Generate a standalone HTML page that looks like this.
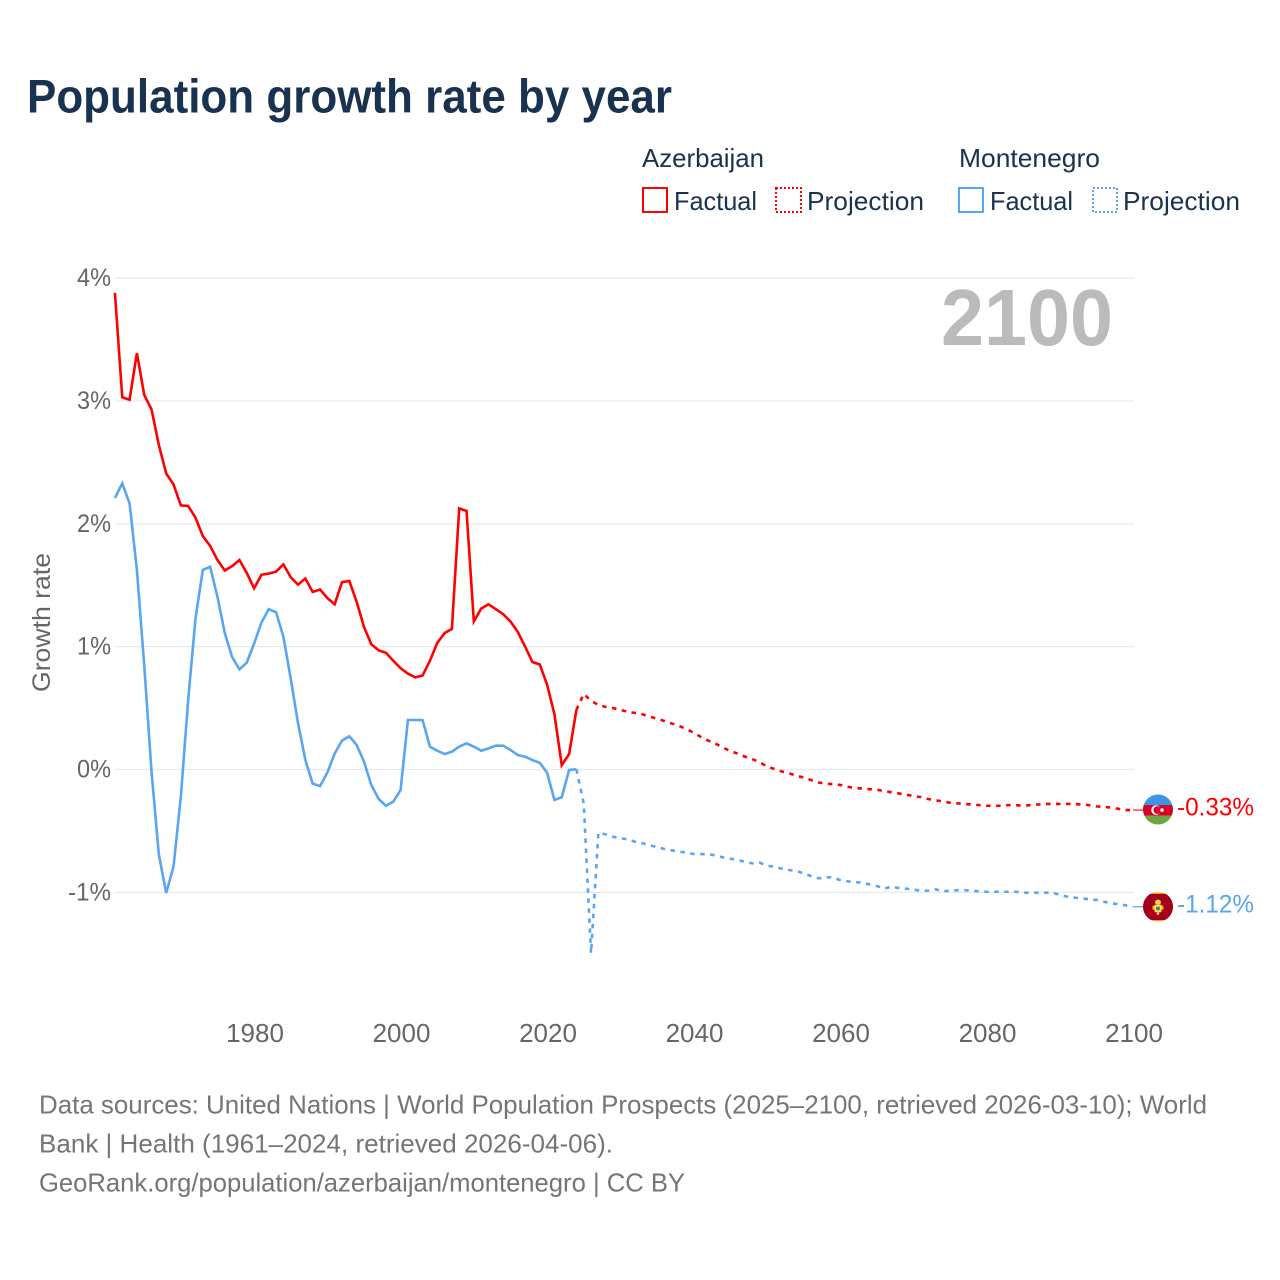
<!DOCTYPE html>
<html lang="en">
<head>
<meta charset="utf-8">
<title>Population growth rate by year</title>
<style>
html,body{margin:0;padding:0;background:#fff;}
svg{display:block;font-family:"Liberation Sans",sans-serif;}
</style>
</head>
<body>
<svg id="chart" xmlns="http://www.w3.org/2000/svg" width="1280" height="1280" viewBox="0 0 1280 1280">
  <rect x="0" y="0" width="1280" height="1280" fill="#ffffff"/>
  <text x="27" y="112.5" font-size="47" font-weight="700" fill="#18324f" textLength="645" lengthAdjust="spacingAndGlyphs">Population growth rate by year</text>

  <g font-size="26" fill="#18324f">
    <text x="642" y="167" textLength="122" lengthAdjust="spacingAndGlyphs">Azerbaijan</text>
    <text x="959" y="167" textLength="141" lengthAdjust="spacingAndGlyphs">Montenegro</text>
    <rect x="643" y="188" width="24" height="24" fill="none" stroke="#ff0000" stroke-width="2"/>
    <text x="674" y="210" textLength="83" lengthAdjust="spacingAndGlyphs">Factual</text>
    <rect x="776" y="188" width="25" height="24" fill="none" stroke="#ff0000" stroke-width="2" stroke-dasharray="2 2"/>
    <text x="807" y="210" textLength="117" lengthAdjust="spacingAndGlyphs">Projection</text>
    <rect x="959" y="188" width="24" height="24" fill="none" stroke="#5aa5f0" stroke-width="2"/>
    <text x="990" y="210" textLength="83" lengthAdjust="spacingAndGlyphs">Factual</text>
    <rect x="1093" y="188" width="24" height="24" fill="none" stroke="#5aa5f0" stroke-width="2" stroke-dasharray="2 2"/>
    <text x="1123" y="210" textLength="117" lengthAdjust="spacingAndGlyphs">Projection</text>
  </g>

  <g id="grid"></g>
  <g id="yTicks"></g>
  <g id="xTicks"></g>
  <text transform="translate(50 692) rotate(-90)" font-size="25" fill="#666666" textLength="139" lengthAdjust="spacingAndGlyphs">Growth rate</text>
  <text id="yearLabel" x="1113" y="345" text-anchor="end" font-size="80" font-weight="700" fill="#bbbbbb" textLength="172" lengthAdjust="spacingAndGlyphs">2100</text>

  <g id="series"></g>

  <g id="flagAz">
    <clipPath id="clipAz"><circle cx="0" cy="0" r="15"/></clipPath>
    <g clip-path="url(#clipAz)">
      <rect x="-15" y="-15" width="30" height="10.5" fill="#3d95e8"/>
      <rect x="-15" y="-4.5" width="30" height="10.5" fill="#d80027"/>
      <rect x="-15" y="6" width="30" height="9" fill="#6da544"/>
    </g>
    <circle cx="-2" cy="0.5" r="4.8" fill="#ffffff"/>
    <circle cx="-0.8" cy="0.5" r="3.8" fill="#d80027"/>
    <circle cx="4" cy="0.5" r="1.8" fill="#ffffff"/>
  </g>
  <g id="flagMe">
    <clipPath id="clipMe"><circle cx="0" cy="0" r="15"/></clipPath>
    <g clip-path="url(#clipMe)">
      <rect x="-15" y="-15" width="30" height="30" fill="#ffda44"/>
      <rect x="-15" y="-13" width="30" height="26.5" fill="#a2001d"/>
    </g>
    <ellipse cx="0" cy="-4.5" rx="3" ry="2.6" fill="#ffda44"/>
    <rect x="-5.5" y="-1" width="11" height="4" fill="#e8b93a"/>
    <rect x="-3.5" y="-2" width="7" height="7.5" fill="#ffda44"/>
    <rect x="-1.8" y="0" width="3.6" height="3.4" fill="#3d7a9e"/>
    <circle cx="0" cy="6.8" r="1.4" fill="#ffda44"/>
  </g>
  <g id="endLabels"></g>

  <g font-size="26" fill="#757575">
    <text x="39" y="1113.5" textLength="1168" lengthAdjust="spacingAndGlyphs">Data sources: United Nations | World Population Prospects (2025–2100, retrieved 2026-03-10); World</text>
    <text x="39" y="1152.5" textLength="574" lengthAdjust="spacingAndGlyphs">Bank | Health (1961–2024, retrieved 2026-04-06).</text>
    <text x="39" y="1191.5" textLength="646" lengthAdjust="spacingAndGlyphs">GeoRank.org/population/azerbaijan/montenegro | CC BY</text>
  </g>
</svg>

<script>
const xTickYears = [1980, 2000, 2020, 2040, 2060, 2080, 2100];
const yTickValues = [4, 3, 2, 1, 0, -1];
const factualStartYear = 1961;
const projectionStartYear = 2024;

const azerbaijanFactual = [
  3.88,3.03,3.01,3.39,3.05,2.93,2.64,2.41,2.32,2.15,
  2.145,2.05,1.90,1.82,1.705,1.62,1.655,1.705,1.60,1.475,
  1.585,1.595,1.61,1.67,1.565,1.505,1.555,1.445,1.465,1.395,
  1.345,1.525,1.535,1.365,1.16,1.02,0.97,0.95,0.885,0.825,
  0.78,0.75,0.765,0.885,1.03,1.11,1.145,2.125,2.105,1.205,
  1.31,1.345,1.305,1.265,1.205,1.12,1.0,0.875,0.855,0.69,
  0.45,0.035,0.125,0.485
];
const azerbaijanProjection = [
  0.485,0.615,0.56,0.525,0.51,0.5,0.485,0.47,0.46,0.45,
  0.43,0.415,0.395,0.375,0.355,0.33,0.30,0.265,0.235,0.21,
  0.18,0.15,0.13,0.105,0.085,0.06,0.025,0.005,-0.015,-0.03,
  -0.05,-0.065,-0.085,-0.105,-0.115,-0.12,-0.125,-0.14,-0.15,-0.155,
  -0.16,-0.165,-0.175,-0.185,-0.195,-0.205,-0.215,-0.225,-0.24,-0.25,
  -0.26,-0.27,-0.275,-0.28,-0.285,-0.29,-0.295,-0.295,-0.295,-0.29,
  -0.29,-0.295,-0.29,-0.285,-0.28,-0.28,-0.28,-0.28,-0.28,-0.285,
  -0.29,-0.30,-0.305,-0.31,-0.32,-0.33,-0.33
];
const montenegroFactual = [
  2.21,2.33,2.165,1.625,0.85,-0.02,-0.695,-1.005,-0.79,-0.22,
  0.565,1.23,1.625,1.65,1.405,1.11,0.915,0.815,0.87,1.025,
  1.195,1.305,1.28,1.08,0.74,0.375,0.077,-0.115,-0.135,-0.025,
  0.13,0.235,0.27,0.2,0.064,-0.126,-0.24,-0.295,-0.262,-0.167,
  0.403,0.403,0.403,0.186,0.153,0.126,0.145,0.186,0.213,0.186,
  0.153,0.172,0.194,0.194,0.159,0.118,0.104,0.077,0.055,-0.026,
  -0.248,-0.226,-0.004,0.002
];
const montenegroProjection = [
  0.002,-0.275,-1.496,-0.515,-0.528,-0.547,-0.56,-0.568,-0.588,-0.60,
  -0.617,-0.631,-0.647,-0.658,-0.669,-0.677,-0.688,-0.688,-0.69,-0.699,
  -0.715,-0.726,-0.737,-0.75,-0.764,-0.758,-0.783,-0.791,-0.807,-0.818,
  -0.826,-0.845,-0.867,-0.886,-0.878,-0.878,-0.90,-0.91,-0.916,-0.921,
  -0.935,-0.948,-0.97,-0.954,-0.965,-0.97,-0.978,-0.986,-0.986,-0.975,
  -0.992,-0.986,-0.983,-0.983,-0.986,-0.992,-0.995,-0.995,-0.995,-0.995,
  -0.995,-1.003,-1.003,-1.003,-1.003,-1.003,-1.02,-1.035,-1.043,-1.049,
  -1.057,-1.062,-1.076,-1.089,-1.097,-1.106,-1.117
];

const SVG_NS = 'http://www.w3.org/2000/svg';
const RED = '#ff0000';
const BLUE = '#5aa5f0';
const LINE_WIDTH = '2.6';
const DASHES = '4.5 5.5';

function xScale(year) { return 255 + (year - 1980) * (1134 - 255) / 120; }
function yScale(value) { return 769.5 - value * 122.85; }
function lineX(year) { return xScale(year) - 0.9; }

function pathFrom(values, startYear) {
  let d = '';
  for (let i = 0; i < values.length; i++) {
    d += (i === 0 ? 'M' : 'L') + lineX(startYear + i).toFixed(2) + ' ' + yScale(values[i]).toFixed(2);
  }
  return d;
}

const gridGroup = document.getElementById('grid');
const yTickGroup = document.getElementById('yTicks');
yTickValues.forEach(function (v) {
  const line = document.createElementNS(SVG_NS, 'line');
  
  
  line.setAttribute('x1', 115);
  line.setAttribute('x2', xScale(2100));
  line.setAttribute('y1', yScale(v));
  line.setAttribute('y2', yScale(v));
  line.setAttribute('stroke', '#e9e9e9');
  line.setAttribute('stroke-width', '1.2');
  gridGroup.appendChild(line);

  const label = document.createElementNS(SVG_NS, 'text');
  
  
  label.setAttribute('x', 111);
  label.setAttribute('y', yScale(v) + 8);
  label.setAttribute('text-anchor', 'end');
  label.setAttribute('font-size', '25');
  label.setAttribute('fill', '#666666');
  label.setAttribute('textLength', v < 0 ? 43 : 34);
  label.setAttribute('lengthAdjust', 'spacingAndGlyphs');
  label.textContent = v + '%';
  yTickGroup.appendChild(label);
});

const xTickGroup = document.getElementById('xTicks');
xTickYears.forEach(function (year) {
  const label = document.createElementNS(SVG_NS, 'text');
  
  
  label.setAttribute('x', xScale(year));
  label.setAttribute('y', 1042);
  label.setAttribute('text-anchor', 'middle');
  label.setAttribute('font-size', '26');
  label.setAttribute('fill', '#666666');
  label.textContent = year;
  xTickGroup.appendChild(label);
});

const seriesGroup = document.getElementById('series');

const azFactualLine = document.createElementNS(SVG_NS, 'path');


azFactualLine.setAttribute('d', pathFrom(azerbaijanFactual, factualStartYear));
azFactualLine.setAttribute('fill', 'none');
azFactualLine.setAttribute('stroke', RED);
azFactualLine.setAttribute('stroke-width', LINE_WIDTH);
seriesGroup.appendChild(azFactualLine);

const azProjectionLine = document.createElementNS(SVG_NS, 'path');


azProjectionLine.setAttribute('d', pathFrom(azerbaijanProjection, projectionStartYear));
azProjectionLine.setAttribute('fill', 'none');
azProjectionLine.setAttribute('stroke', RED);
azProjectionLine.setAttribute('stroke-width', LINE_WIDTH);
azProjectionLine.setAttribute('stroke-dasharray', DASHES);
seriesGroup.appendChild(azProjectionLine);

const meFactualLine = document.createElementNS(SVG_NS, 'path');


meFactualLine.setAttribute('d', pathFrom(montenegroFactual, factualStartYear));
meFactualLine.setAttribute('fill', 'none');
meFactualLine.setAttribute('stroke', BLUE);
meFactualLine.setAttribute('stroke-width', LINE_WIDTH);
seriesGroup.appendChild(meFactualLine);

const meProjectionLine = document.createElementNS(SVG_NS, 'path');


meProjectionLine.setAttribute('d', pathFrom(montenegroProjection, projectionStartYear));
meProjectionLine.setAttribute('fill', 'none');
meProjectionLine.setAttribute('stroke', BLUE);
meProjectionLine.setAttribute('stroke-width', LINE_WIDTH);
meProjectionLine.setAttribute('stroke-dasharray', DASHES);
seriesGroup.appendChild(meProjectionLine);

const azLast = azerbaijanProjection[azerbaijanProjection.length - 1];
const meLast = montenegroProjection[montenegroProjection.length - 1];

const azConnector = document.createElementNS(SVG_NS, 'line');


azConnector.setAttribute('x1', lineX(2100));
azConnector.setAttribute('x2', 1150);
azConnector.setAttribute('y1', yScale(azLast));
azConnector.setAttribute('y2', yScale(azLast));
azConnector.setAttribute('stroke', RED);
azConnector.setAttribute('stroke-width', '1.2');
seriesGroup.appendChild(azConnector);

const meConnector = document.createElementNS(SVG_NS, 'line');


meConnector.setAttribute('x1', lineX(2100));
meConnector.setAttribute('x2', 1150);
meConnector.setAttribute('y1', yScale(meLast));
meConnector.setAttribute('y2', yScale(meLast));
meConnector.setAttribute('stroke', BLUE);
meConnector.setAttribute('stroke-width', '1.2');
seriesGroup.appendChild(meConnector);

document.getElementById('flagAz').setAttribute('transform', 'translate(1158 ' + (yScale(azLast) - 0.5) + ')');
document.getElementById('flagMe').setAttribute('transform', 'translate(1158 ' + yScale(meLast) + ')');

const endGroup = document.getElementById('endLabels');

const azEndLabel = document.createElementNS(SVG_NS, 'text');


azEndLabel.setAttribute('x', 1177);
azEndLabel.setAttribute('y', yScale(azLast) + 5.5);
azEndLabel.setAttribute('font-size', '25');
azEndLabel.setAttribute('fill', RED);
azEndLabel.setAttribute('textLength', '77');
azEndLabel.setAttribute('lengthAdjust', 'spacingAndGlyphs');
azEndLabel.textContent = azLast.toFixed(2) + '%';
endGroup.appendChild(azEndLabel);

const meEndLabel = document.createElementNS(SVG_NS, 'text');


meEndLabel.setAttribute('x', 1177);
meEndLabel.setAttribute('y', yScale(meLast) + 6);
meEndLabel.setAttribute('font-size', '25');
meEndLabel.setAttribute('fill', BLUE);
meEndLabel.setAttribute('textLength', '77');
meEndLabel.setAttribute('lengthAdjust', 'spacingAndGlyphs');
meEndLabel.textContent = meLast.toFixed(2) + '%';
endGroup.appendChild(meEndLabel);
</script>
</body>
</html>
